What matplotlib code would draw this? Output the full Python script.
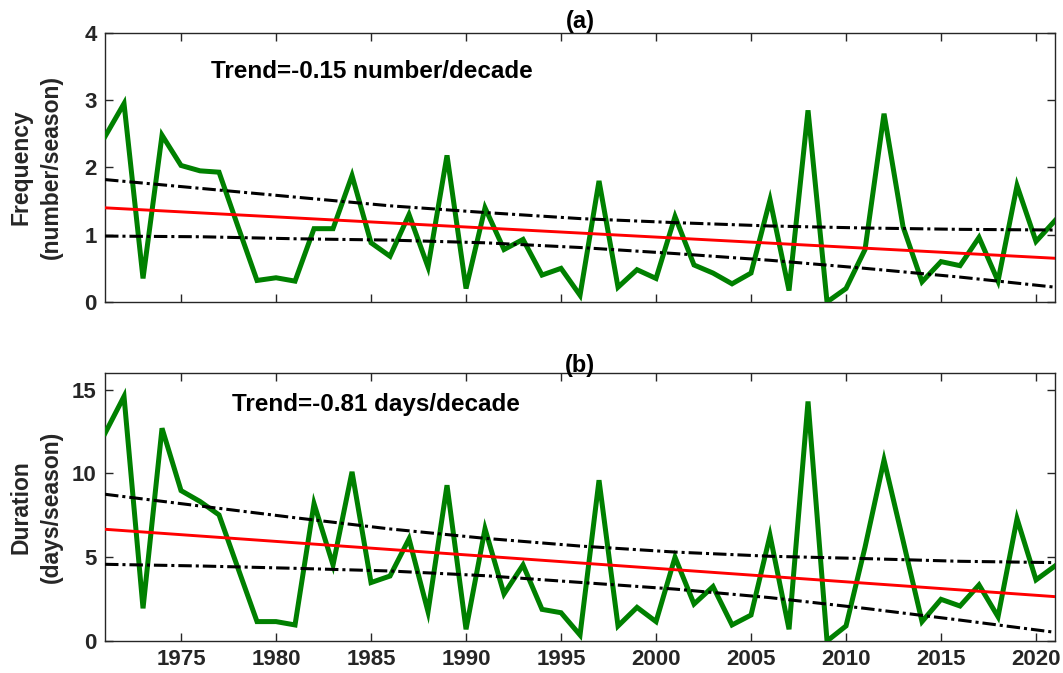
import matplotlib
matplotlib.use("Agg")
import matplotlib.pyplot as plt
import numpy as np

plt.rcParams['font.family'] = ['Liberation Sans', 'DejaVu Sans']
plt.rcParams['font.weight'] = 'bold'

years = list(range(1971, 2022))

frequency = [2.46, 2.95, 0.35, 2.48, 2.03, 1.95, 1.93, 1.12, 0.32, 0.36,
             0.31, 1.09, 1.09, 1.88, 0.88, 0.68, 1.30, 0.52, 2.18, 0.20,
             1.40, 0.78, 0.93, 0.40, 0.50, 0.10, 1.80, 0.22, 0.48, 0.35,
             1.27, 0.55, 0.43, 0.27, 0.43, 1.52, 0.17, 2.85, 0.00, 0.20,
             0.78, 2.80, 1.12, 0.30, 0.60, 0.54, 0.96, 0.31, 1.73, 0.90,
             1.21]

duration = [12.4, 14.6, 1.95, 12.7, 8.98, 8.33, 7.53, 4.34, 1.16, 1.16,
            0.96, 8.2, 4.54, 10.1, 3.49, 3.88, 6.1, 1.75, 9.3, 0.7,
            6.7, 2.81, 4.54, 1.89, 1.69, 0.36, 9.6, 0.9, 2.01, 1.16,
            5.0, 2.21, 3.25, 0.96, 1.55, 6.3, 0.7, 14.3, 0.0, 0.9,
            5.6, 10.8, 6.0, 1.16, 2.49, 2.09, 3.35, 1.45, 7.3, 3.65,
            4.48]

# trend lines (end points) and confidence bounds
trend_years = [1971, 2021]
freq_trend = [1.40, 0.65]
dur_trend = [6.67, 2.65]

band_years = [1971, 1976, 1981, 1986, 1991, 1996, 2001, 2006, 2011, 2016, 2021]
freq_upper = [1.82, 1.69, 1.56, 1.43, 1.33, 1.24, 1.18, 1.13, 1.10, 1.08, 1.07]
freq_lower = [0.98, 0.97, 0.94, 0.92, 0.88, 0.81, 0.72, 0.62, 0.50, 0.37, 0.22]
dur_upper = [8.76, 8.06, 7.36, 6.69, 6.13, 5.67, 5.31, 5.06, 4.92, 4.76, 4.68]
dur_lower = [4.58, 4.48, 4.34, 4.18, 3.90, 3.50, 3.10, 2.59, 1.95, 1.25, 0.52]

xticks = [1975, 1980, 1985, 1990, 1995, 2000, 2005, 2010, 2015, 2020]

fig = plt.figure(figsize=(10.63, 6.73), dpi=100)
ax1 = fig.add_axes([0.0988, 0.5513, 0.8937, 0.3997])
ax2 = fig.add_axes([0.0988, 0.0475, 0.8937, 0.3983])

green = (0.0, 0.5, 0.0)
dashdot = (0, (4.4, 1.3, 1.0, 1.3))
dark = (0.15, 0.15, 0.15)

panels = [
    (ax1, frequency, freq_trend, freq_upper, freq_lower, (0, 4), [0, 1, 2, 3, 4],
     'Frequency\n(number/season)', '(a)', 'Trend=-0.15 number/decade', (1976.6, 3.43)),
    (ax2, duration, dur_trend, dur_upper, dur_lower, (0, 16), [0, 5, 10, 15],
     'Duration\n(days/season)', '(b)', 'Trend=-0.81 days/decade', (1977.7, 14.1)),
]

for ax, data, tr, up, lo, ylim, yt, ylab, title, txt, txtpos in panels:
    ax.plot(years, data, color=green, lw=3.6, solid_joinstyle='miter', zorder=3)
    ax.plot(trend_years, tr, color='red', lw=2.1, zorder=4)
    ax.plot(band_years, up, color='black', lw=2.2, linestyle=dashdot, zorder=4)
    ax.plot(band_years, lo, color='black', lw=2.2, linestyle=dashdot, zorder=4)
    ax.set_xlim(1971, 2021)
    ax.set_ylim(*ylim)
    ax.set_yticks(yt)
    ax.set_xticks(xticks)
    ax.tick_params(direction='in', top=True, right=True, length=6, width=1,
                   labelsize=16, colors=dark, labelcolor=dark, pad=6)
    for lab in ax.get_xticklabels() + ax.get_yticklabels():
        lab.set_fontweight('bold')
    for s in ax.spines.values():
        s.set_color(dark)
        s.set_linewidth(1.0)
    ax.set_ylabel(ylab, fontsize=16.5, fontweight='bold', color=dark,
                  linespacing=1.45)
    ax.yaxis.set_label_coords(-0.044, 0.5)
    ax.set_title(title, fontsize=17, fontweight='bold', pad=1)
    ax.text(txtpos[0], txtpos[1], txt, fontsize=17.5, fontweight='bold',
            ha='left', va='center')

ax1.set_xticklabels([])

fig.savefig('out.png', dpi=100)
